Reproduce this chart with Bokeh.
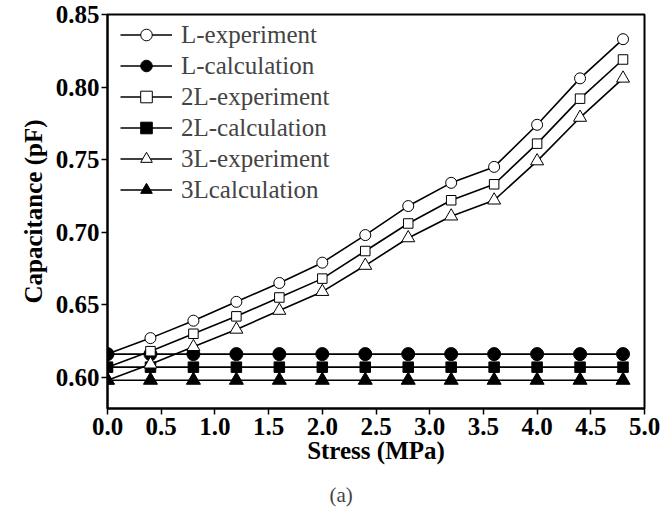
from bokeh.plotting import figure
from bokeh.models import Legend, LegendItem, Title, Range1d, FixedTicker
from bokeh.embed import file_html
from bokeh.resources import INLINE

stress = [0.0, 0.4, 0.8, 1.2, 1.6, 2.0, 2.4, 2.8, 3.2, 3.6, 4.0, 4.4, 4.8]
l_exp = [0.616, 0.627, 0.639, 0.652, 0.665, 0.679, 0.698, 0.718, 0.734, 0.745, 0.774, 0.806, 0.833]
l2_exp = [0.607, 0.618, 0.630, 0.642, 0.655, 0.668, 0.687, 0.706, 0.722, 0.733, 0.761, 0.792, 0.819]
l3_exp = [0.598, 0.609, 0.621, 0.633, 0.646, 0.659, 0.677, 0.696, 0.711, 0.722, 0.749, 0.779, 0.806]
l_calc = [0.616] * 13
l2_calc = [0.607] * 13
l3_calc = [0.598] * 13
x_ticks = [0.0, 0.5, 1.0, 1.5, 2.0, 2.5, 3.0, 3.5, 4.0, 4.5, 5.0]
y_ticks = [0.60, 0.65, 0.70, 0.75, 0.80, 0.85]

FONT = "Liberation Serif"

p = figure(width=662, height=520, output_backend="svg", toolbar_location=None,
           x_range=Range1d(0, 5), y_range=Range1d(0.5785, 0.85),
           min_border_left=107, min_border_right=18, min_border_top=14, min_border_bottom=112)
p.grid.visible = False
p.outline_line_color = "black"
p.outline_line_width = 2
p.background_fill_color = "white"
p.border_fill_color = "white"

series = [
    ("L-experiment", l_exp, "circle", "white", 11),
    ("L-calculation", l_calc, "circle", "black", 13),
    ("2L-experiment", l2_exp, "square", "white", 9.5),
    ("2L-calculation", l2_calc, "square", "black", 10.5),
    ("3L-experiment", l3_exp, "triangle", "white", 13),
    ("3Lcalculation", l3_calc, "triangle", "black", 14),
]
items = []
for name, ys, marker, fill, sz in series:
    ln = p.line(stress, ys, line_color="black", line_width=1.6)
    sc = p.scatter(stress, ys, marker=marker, size=sz, fill_color=fill,
                   line_color="black", line_width=1.0)
    items.append(LegendItem(label=name, renderers=[ln, sc]))

legend = Legend(items=items, location=(10, 201), margin=0, padding=3,
                glyph_width=52, glyph_height=29, label_height=29, spacing=2,
                label_standoff=9, label_text_font=FONT, label_text_font_size="25px",
                background_fill_alpha=0, border_line_alpha=0)
p.add_layout(legend)

for ax in (p.xaxis[0], p.yaxis[0]):
    ax.axis_line_color = "black"
    ax.axis_line_width = 2
    ax.major_tick_line_width = 1.5
    ax.major_tick_in = 0
    ax.major_tick_out = 6
    ax.minor_tick_line_color = None
    ax.major_label_text_font = FONT
    ax.major_label_text_font_style = "bold"
    ax.major_label_text_font_size = "25px"
    ax.major_label_text_color = "black"
    ax.axis_label_text_font = FONT
    ax.axis_label_text_font_style = "bold"
    ax.axis_label_text_font_size = "25px"
    ax.axis_label_text_color = "black"

p.xaxis.ticker = FixedTicker(ticks=x_ticks)
p.yaxis.ticker = FixedTicker(ticks=y_ticks)
p.xaxis.major_label_overrides = {t: f"{t:.1f}" for t in x_ticks}
p.yaxis.major_label_overrides = {t: f"{t:.2f}" for t in y_ticks}
p.xaxis.axis_label = "Stress (MPa)"
p.yaxis.axis_label = "Capacitance (pF)"
p.xaxis.major_label_standoff = 3
p.yaxis.major_label_standoff = 2
p.xaxis.axis_label_standoff = -1
p.yaxis.axis_label_standoff = 6

cap = Title(text="(a)", align="left", offset=222, text_font=FONT,
            text_font_style="normal", text_font_size="21px", standoff=28)
p.add_layout(cap, "below")

open("out.html", "w").write(file_html(p, INLINE))
